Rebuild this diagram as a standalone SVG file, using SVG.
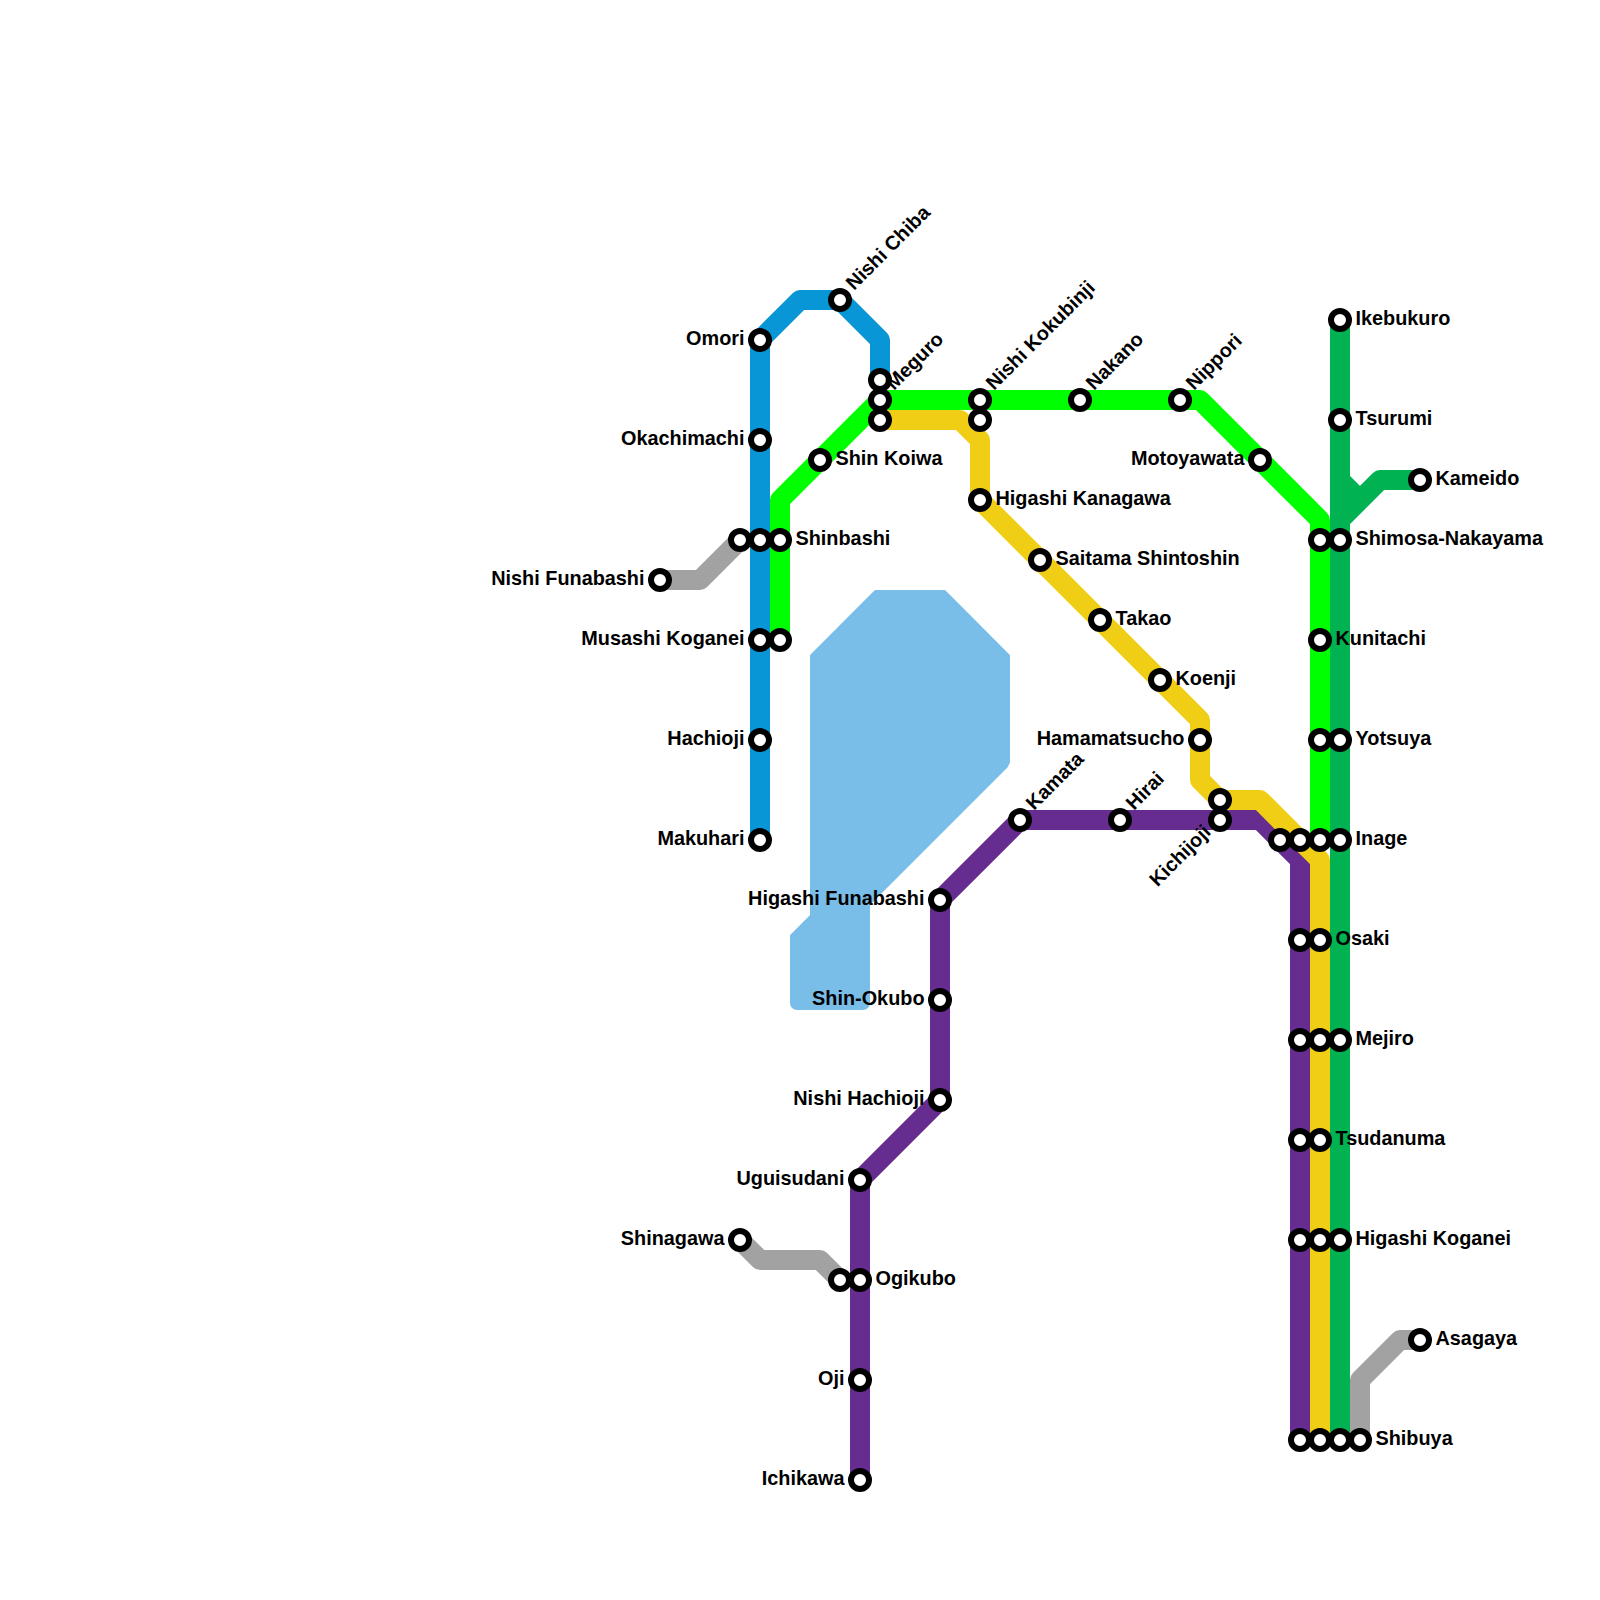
<svg xmlns="http://www.w3.org/2000/svg" width="1600" height="1600" viewBox="0 0 1600 1600">
<style>
.l{fill:none;stroke-width:20;stroke-linejoin:round;stroke-linecap:butt}
.s{fill:#fff;stroke:#000;stroke-width:6}
text{font-family:"Liberation Sans",Arial,sans-serif;font-weight:700;font-size:19.85px;fill:#000}
.e{text-anchor:end}
</style>
<defs><circle id="st" r="9" class="s"/></defs>
<rect width="1600" height="1600" fill="#fff"/>
<path id="water" d="M875.83,592H944.17L1008,655.83V762L1006,766.17L868,904.17V1003A5,5 0 0 1 863,1008H797A5,5 0 0 1 792,1003V935.83L812,915.83V655.83Z" fill="#79bde9" stroke="#79bde9" stroke-width="4" stroke-linejoin="round"/>
<g id="connectors">
<path class="l" stroke="#a2a2a2" d="M660,580H700L740,540"/>
<path class="l" stroke="#a2a2a2" d="M740,1240L760,1260H820L840,1280"/>
<path class="l" stroke="#a2a2a2" d="M1360,1440V1380L1400,1340H1420"/>
<path class="l" stroke="#0896d7" d="M760,840V340L800,300H840L880,340V380"/>
<path class="l" stroke="#00ff00" d="M780,640V500L880,400H1200L1320,520V840"/>
<path class="l" stroke="#00b251" d="M1340,1440V320"/>
<path class="l" stroke="#00b251" d="M1340,480L1360,500"/>
<path class="l" stroke="#00b251" d="M1340,520L1380,480H1420"/>
<path class="l" stroke="#662c90" d="M860,1480V1180L940,1100V900L1020,820H1260L1300,860V1440"/>
<path class="l" stroke="#f0ce15" d="M880,420H960L980,440V500L1200,720V780L1220,800H1260L1320,860V1440"/>
</g>
<g id="stations">
<use href="#st" x="660" y="580"/><use href="#st" x="740" y="540"/><use href="#st" x="760" y="340"/><use href="#st" x="760" y="440"/><use href="#st" x="760" y="540"/><use href="#st" x="760" y="640"/><use href="#st" x="760" y="740"/><use href="#st" x="760" y="840"/><use href="#st" x="780" y="540"/><use href="#st" x="780" y="640"/><use href="#st" x="820" y="460"/><use href="#st" x="840" y="300"/><use href="#st" x="880" y="380"/><use href="#st" x="880" y="400"/><use href="#st" x="880" y="420"/><use href="#st" x="980" y="400"/><use href="#st" x="980" y="420"/><use href="#st" x="980" y="500"/><use href="#st" x="1040" y="560"/><use href="#st" x="1100" y="620"/><use href="#st" x="1160" y="680"/><use href="#st" x="1200" y="740"/><use href="#st" x="1220" y="800"/><use href="#st" x="1220" y="820"/><use href="#st" x="1080" y="400"/><use href="#st" x="1180" y="400"/><use href="#st" x="1260" y="460"/><use href="#st" x="1020" y="820"/><use href="#st" x="1120" y="820"/><use href="#st" x="940" y="900"/><use href="#st" x="940" y="1000"/><use href="#st" x="940" y="1100"/><use href="#st" x="860" y="1180"/><use href="#st" x="860" y="1280"/><use href="#st" x="860" y="1380"/><use href="#st" x="860" y="1480"/><use href="#st" x="840" y="1280"/><use href="#st" x="740" y="1240"/>
<use href="#st" x="1280" y="840"/><use href="#st" x="1300" y="840"/><use href="#st" x="1320" y="840"/><use href="#st" x="1340" y="840"/>
<use href="#st" x="1320" y="540"/><use href="#st" x="1340" y="540"/><use href="#st" x="1320" y="640"/><use href="#st" x="1320" y="740"/><use href="#st" x="1340" y="740"/>
<use href="#st" x="1300" y="940"/><use href="#st" x="1320" y="940"/><use href="#st" x="1300" y="1040"/><use href="#st" x="1320" y="1040"/><use href="#st" x="1340" y="1040"/><use href="#st" x="1300" y="1140"/><use href="#st" x="1320" y="1140"/><use href="#st" x="1300" y="1240"/><use href="#st" x="1320" y="1240"/><use href="#st" x="1340" y="1240"/>
<use href="#st" x="1300" y="1440"/><use href="#st" x="1320" y="1440"/><use href="#st" x="1340" y="1440"/><use href="#st" x="1360" y="1440"/>
<use href="#st" x="1340" y="320"/><use href="#st" x="1340" y="420"/><use href="#st" x="1420" y="480"/><use href="#st" x="1420" y="1340"/>
</g>
<g id="labels">
<text class="e" x="744.5" y="344.5">Omori</text>
<text class="e" x="744.5" y="444.5">Okachimachi</text>
<text class="e" x="644.5" y="584.5">Nishi Funabashi</text>
<text class="e" x="744.5" y="644.5">Musashi Koganei</text>
<text class="e" x="744.5" y="744.5">Hachioji</text>
<text class="e" x="744.5" y="844.5">Makuhari</text>
<text x="795.5" y="544.5">Shinbashi</text>
<text x="835.5" y="464.5">Shin Koiwa</text>
<text x="995.5" y="504.5">Higashi Kanagawa</text>
<text x="1055.5" y="564.5">Saitama Shintoshin</text>
<text x="1115.5" y="624.5">Takao</text>
<text x="1175.5" y="684.5">Koenji</text>
<text class="e" x="1184.5" y="744.5">Hamamatsucho</text>
<text class="e" x="1244.5" y="464.5">Motoyawata</text>
<text class="e" x="924.5" y="904.5">Higashi Funabashi</text>
<text class="e" x="924.5" y="1004.5">Shin-Okubo</text>
<text class="e" x="924.5" y="1104.5">Nishi Hachioji</text>
<text class="e" x="844.5" y="1184.5">Uguisudani</text>
<text class="e" x="724.5" y="1244.5">Shinagawa</text>
<text x="875.5" y="1284.5">Ogikubo</text>
<text class="e" x="844.5" y="1384.5">Oji</text>
<text class="e" x="844.5" y="1484.5">Ichikawa</text>
<text x="1355.5" y="324.5">Ikebukuro</text>
<text x="1355.5" y="424.5">Tsurumi</text>
<text x="1435.5" y="484.5">Kameido</text>
<text x="1355.5" y="544.5">Shimosa-Nakayama</text>
<text x="1335.5" y="644.5">Kunitachi</text>
<text x="1355.5" y="744.5">Yotsuya</text>
<text x="1355.5" y="844.5">Inage</text>
<text x="1335.5" y="944.5">Osaki</text>
<text x="1355.5" y="1044.5">Mejiro</text>
<text x="1335.5" y="1144.5">Tsudanuma</text>
<text x="1355.5" y="1244.5">Higashi Koganei</text>
<text x="1435.5" y="1344.5">Asagaya</text>
<text x="1375.5" y="1444.5">Shibuya</text>
<text transform="translate(854,291) rotate(-45)">Nishi Chiba</text>
<text transform="translate(894,391) rotate(-45)">Meguro</text>
<text transform="translate(994,391) rotate(-45)">Nishi Kokubinji</text>
<text transform="translate(1094,391) rotate(-45)">Nakano</text>
<text transform="translate(1194,391) rotate(-45)">Nippori</text>
<text transform="translate(1034,811) rotate(-45)">Kamata</text>
<text transform="translate(1134,811) rotate(-45)">Hirai</text>
<text class="e" transform="translate(1212,833) rotate(-45)">Kichijoji</text>
</g>
</svg>
